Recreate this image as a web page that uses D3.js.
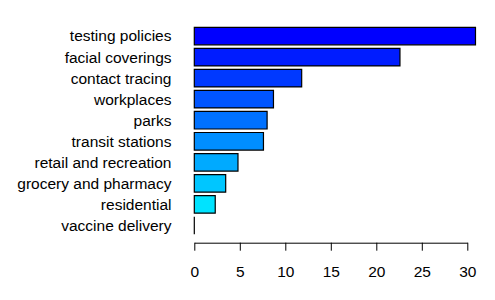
<!DOCTYPE html>
<html>
<head>
<meta charset="utf-8">
<script src="https://cdn.jsdelivr.net/npm/d3@7"></script>
<style>
  body { margin: 0; background: #fff; }
  svg { display: block; font-family: "Liberation Sans", Arial, sans-serif; }
</style>
</head>
<body>
<div id="chart"></div>
<script>
// categories from top to bottom
const categories = [
    'testing policies',
    'facial coverings',
    'contact tracing',
    'workplaces',
    'parks',
    'transit stations',
    'retail and recreation',
    'grocery and pharmacy',
    'residential',
    'vaccine delivery'
];
const values = [30.9, 22.6, 11.8, 8.7, 8.0, 7.6, 4.8, 3.45, 2.3, 0];
const xTicks = [0, 5, 10, 15, 20, 25, 30];

const width = 495;
const height = 300;
const fontSize = 15.5;

const svg = d3.select('#chart')
    .append('svg')
    .attr('width', width)
    .attr('height', height);

const xScale = d3.scaleLinear()
    .domain([0, 30])
    .range([194.3, 467.3]);

const yScale = d3.scaleBand()
    .domain(categories)
    .range([25.2, 236.3])
    .paddingInner(0.2 / 1.2)
    .paddingOuter(0.1);

// blue -> cyan ramp, one colour per bar
const colour = d3.scaleLinear()
    .domain([0, categories.length - 1])
    .range(['#0000ff', '#00ffff']);

svg.append('g')
    .selectAll('path')
    .data(categories)
    .join('path')
    .attr('d', (d, i) => {
        const x0 = xScale(0), x1 = xScale(values[i]);
        const y0 = yScale(d), y1 = yScale(d) + yScale.bandwidth();
        return `M${x0},${y0}H${x1}V${y1}H${x0}Z`;
    })
    .attr('fill', (d, i) => colour(i))
    .attr('stroke', '#000')
    .attr('stroke-width', 1.2);

// category labels
svg.append('g')
    .selectAll('text')
    .data(categories)
    .join('text')
    .attr('x', 171.5)
    .attr('y', (d) => yScale(d) + yScale.bandwidth() / 2)
    .attr('dy', '0.35em')
    .attr('text-anchor', 'end')
    .attr('font-size', fontSize)
    .attr('fill', '#000')
    .text((d) => d);

// x axis
const xAxis = d3.axisBottom(xScale)
    .tickValues(xTicks)
    .tickSize(8)
    .tickPadding(15)
    .tickSizeOuter(0);

const axisG = svg.append('g')
    .attr('transform', 'translate(0, 242.7)')
    .call(xAxis);

axisG.select('.domain').attr('stroke', '#000').attr('stroke-width', 1);
axisG.selectAll('.tick line').attr('stroke', '#000');
axisG.selectAll('.tick text')
    .attr('font-size', fontSize)
    .attr('font-family', '"Liberation Sans", Arial, sans-serif')
    .attr('fill', '#000');
</script>
</body>
</html>
